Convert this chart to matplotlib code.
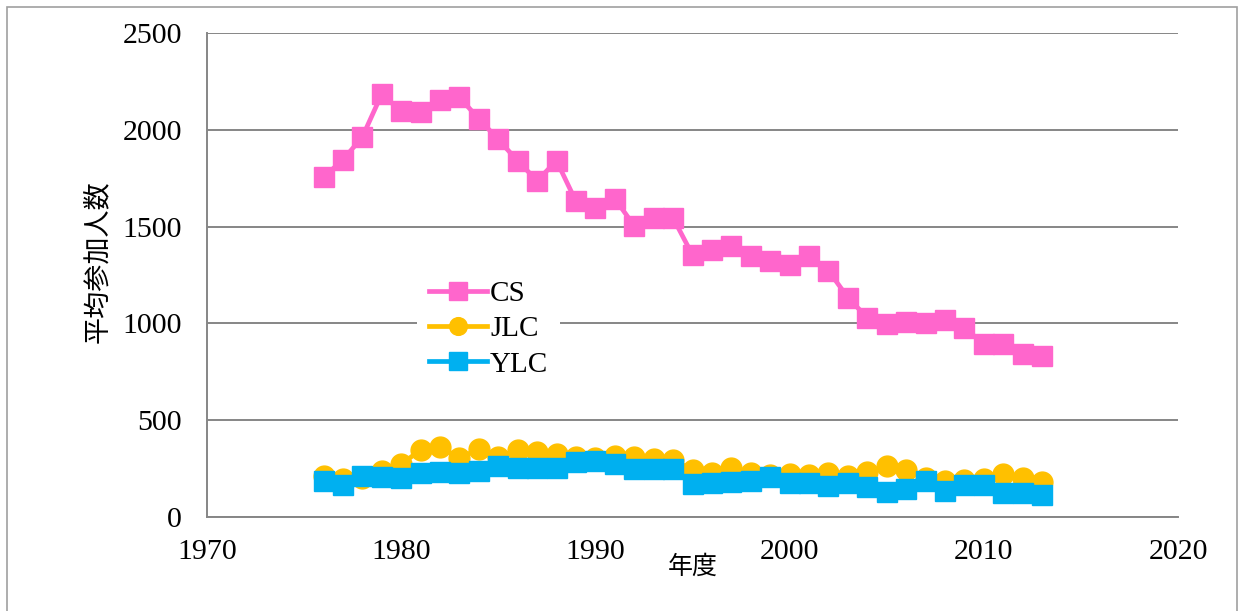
import matplotlib.pyplot as plt
from matplotlib.patches import Rectangle

years = list(range(1976, 2014))

cs = [1755, 1845, 1963, 2185, 2095, 2090, 2154, 2168, 2056, 1950,
      1839, 1737, 1840, 1630, 1595, 1645, 1503, 1547, 1545, 1353,
      1377, 1398, 1350, 1322, 1302, 1348, 1273, 1133, 1030, 997,
      1005, 1003, 1018, 975, 895, 894, 843, 832]

jlc = [212, 196, 200, 238, 273, 346, 361, 306, 350, 312,
       346, 334, 325, 312, 303, 315, 308, 300, 295, 243,
       226, 255, 229, 217, 220, 217, 226, 213, 234, 263,
       243, 200, 186, 191, 196, 222, 200, 182]

ylc = [187, 165, 212, 205, 200, 229, 234, 226, 238, 263,
       251, 255, 255, 285, 288, 272, 246, 246, 248, 169,
       174, 179, 186, 207, 175, 175, 158, 175, 157, 127,
       145, 186, 133, 165, 167, 126, 126, 115]

x_ticks = [1970, 1980, 1990, 2000, 2010, 2020]
y_ticks = [0, 500, 1000, 1500, 2000, 2500]

serif = ['Liberation Serif', 'DejaVu Serif']
cjk = ['Noto Sans CJK JP', 'DejaVu Sans']
plt.rcParams['font.family'] = serif

fig = plt.figure(figsize=(12.41, 6.11), dpi=100)
ax = fig.add_axes([207 / 1241, 1 - 517 / 611, 971 / 1241, 484 / 611])

# outer frame like the spreadsheet chart area
fig.patches.append(Rectangle((7 / 1241, -0.2), 1230 / 1241, 1.2 - 7 / 611,
                             transform=fig.transFigure, fill=False,
                             edgecolor='#a0a0a0', linewidth=1.2))

ax.plot(years, cs, color='#ff66cc', lw=3.4, marker='s', ms=14.5, label='CS', zorder=3)
ax.plot(years, jlc, color='#ffc000', lw=3.4, marker='o', ms=15, label='JLC', zorder=4)
ax.plot(years, ylc, color='#00b0f0', lw=3.4, marker='s', ms=14.5, label='YLC', zorder=5)

ax.set_xlim(1970, 2020)
ax.set_ylim(0, 2500)
ax.set_xticks(x_ticks)
ax.set_yticks(y_ticks)
ax.tick_params(length=0, labelsize=21.5)
ax.tick_params(axis='x', pad=16)
ax.tick_params(axis='y', pad=18)

ax.grid(axis='y', color='#868686', lw=1.4)
ax.set_axisbelow(True)
for s in ['top', 'right']:
    ax.spines[s].set_visible(False)
for s in ['left', 'bottom']:
    ax.spines[s].set_color('#868686')
    ax.spines[s].set_linewidth(1.4)

ax.set_xlabel('年度', family=cjk, fontsize=18, va='center')
ax.xaxis.set_label_coords(0.5, -50 / 484)
ax.set_ylabel('平均参加人数', family=cjk, fontsize=19.5, va='center')
ax.yaxis.set_label_coords(-110 / 971, 0.527)

leg = ax.legend(loc='center', bbox_to_anchor=(0.29, 0.388), fontsize=21,
                frameon=True, fancybox=False, edgecolor='none', facecolor='white',
                framealpha=1, handlelength=2.0, handletextpad=0.1,
                labelspacing=0.3, borderpad=0.4, markerscale=0.85)

fig.savefig('out.png', dpi=100)
